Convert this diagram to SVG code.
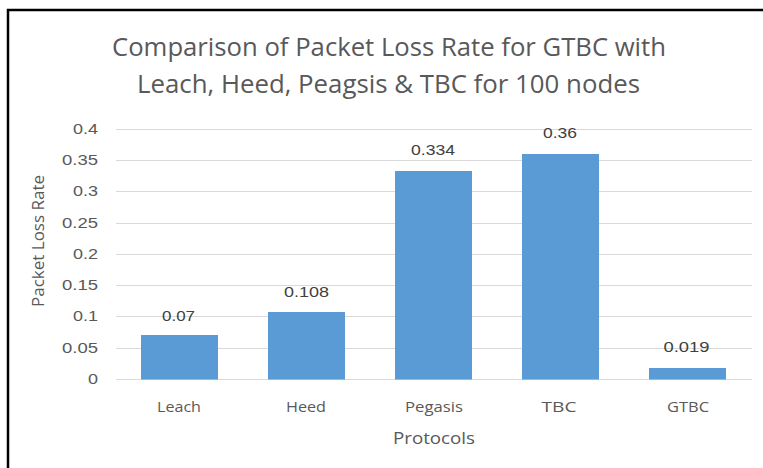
<svg xmlns="http://www.w3.org/2000/svg" width="763" height="468" viewBox="0 0 763 468">
<style>
.t{font-family:"Open Sans","Liberation Sans",sans-serif;fill:#595959}
.title{font-size:25px;text-anchor:middle}
.tick{font-family:"Liberation Sans",Arial,sans-serif;fill:#595959;font-size:15px;text-anchor:end}
.dl{font-family:"Liberation Sans",Arial,sans-serif;fill:#404040;font-size:15px;text-anchor:middle}
.cat{font-size:15px;text-anchor:middle}
.ax{font-size:16px;text-anchor:middle}
.grid{stroke:#D9D9D9;stroke-width:1}
.bar{fill:#5B9BD5}
</style>
<rect x="0" y="0" width="763" height="468" fill="#ffffff"/>
<rect x="8" y="10" width="800" height="500" fill="none" stroke="#000" stroke-width="2.5"/>
<g id="title">
<text class="t title" x="389" y="56" textLength="554" lengthAdjust="spacingAndGlyphs">Comparison of Packet Loss Rate for GTBC with</text>
<text class="t title" x="388.5" y="93" textLength="503" lengthAdjust="spacingAndGlyphs">Leach, Heed, Peagsis &amp; TBC for 100 nodes</text>
</g>
<g id="gridlines">
<line class="grid" x1="116" y1="129.5" x2="752" y2="129.5"/>
<line class="grid" x1="116" y1="160.5" x2="752" y2="160.5"/>
<line class="grid" x1="116" y1="191.5" x2="752" y2="191.5"/>
<line class="grid" x1="116" y1="223.5" x2="752" y2="223.5"/>
<line class="grid" x1="116" y1="254.5" x2="752" y2="254.5"/>
<line class="grid" x1="116" y1="285.5" x2="752" y2="285.5"/>
<line class="grid" x1="116" y1="316.5" x2="752" y2="316.5"/>
<line class="grid" x1="116" y1="348.5" x2="752" y2="348.5"/>
<line x1="116" y1="379.5" x2="752" y2="379.5" stroke="#D9D9D9" stroke-width="1.2"/>
</g>
<g id="yticks">
<text class="tick" x="98" y="134" textLength="25" lengthAdjust="spacingAndGlyphs">0.4</text>
<text class="tick" x="98" y="165" textLength="36" lengthAdjust="spacingAndGlyphs">0.35</text>
<text class="tick" x="98" y="196" textLength="25" lengthAdjust="spacingAndGlyphs">0.3</text>
<text class="tick" x="98" y="228" textLength="36" lengthAdjust="spacingAndGlyphs">0.25</text>
<text class="tick" x="98" y="259" textLength="25" lengthAdjust="spacingAndGlyphs">0.2</text>
<text class="tick" x="98" y="290" textLength="36" lengthAdjust="spacingAndGlyphs">0.15</text>
<text class="tick" x="98" y="321" textLength="25" lengthAdjust="spacingAndGlyphs">0.1</text>
<text class="tick" x="98" y="353" textLength="36" lengthAdjust="spacingAndGlyphs">0.05</text>
<text class="tick" x="98" y="384" textLength="10" lengthAdjust="spacingAndGlyphs">0</text>
</g>
<g id="bar-leach">
<rect class="bar" x="141" y="335" width="77" height="44.5"/>
<text class="dl" x="178.5" y="321" textLength="33" lengthAdjust="spacingAndGlyphs">0.07</text>
<text class="t cat" x="179" y="412" textLength="44" lengthAdjust="spacingAndGlyphs">Leach</text>
</g>
<g id="bar-heed">
<rect class="bar" x="268" y="312" width="77" height="67.5"/>
<text class="dl" x="306.5" y="297" textLength="45" lengthAdjust="spacingAndGlyphs">0.108</text>
<text class="t cat" x="306" y="412" textLength="40" lengthAdjust="spacingAndGlyphs">Heed</text>
</g>
<g id="bar-pegasis">
<rect class="bar" x="395" y="171" width="77" height="208.5"/>
<text class="dl" x="433" y="155" textLength="44" lengthAdjust="spacingAndGlyphs">0.334</text>
<text class="t cat" x="434" y="412" textLength="58" lengthAdjust="spacingAndGlyphs">Pegasis</text>
</g>
<g id="bar-tbc">
<rect class="bar" x="522" y="154" width="77" height="225.5"/>
<text class="dl" x="560" y="138" textLength="34" lengthAdjust="spacingAndGlyphs">0.36</text>
<text class="t cat" x="559" y="412" textLength="35" lengthAdjust="spacingAndGlyphs">TBC</text>
</g>
<g id="bar-gtbc">
<rect class="bar" x="649" y="368" width="77" height="11.5"/>
<text class="dl" x="686.5" y="352" textLength="46" lengthAdjust="spacingAndGlyphs">0.019</text>
<text class="t cat" x="688" y="412" textLength="42" lengthAdjust="spacingAndGlyphs">GTBC</text>
</g>
<g id="axis-titles">
<text class="t ax" x="434" y="444" textLength="82" lengthAdjust="spacingAndGlyphs">Protocols</text>
<text class="t ax" transform="translate(44,241) rotate(-90)" x="0" y="0" textLength="132" lengthAdjust="spacingAndGlyphs">Packet Loss Rate</text>
</g>
</svg>
